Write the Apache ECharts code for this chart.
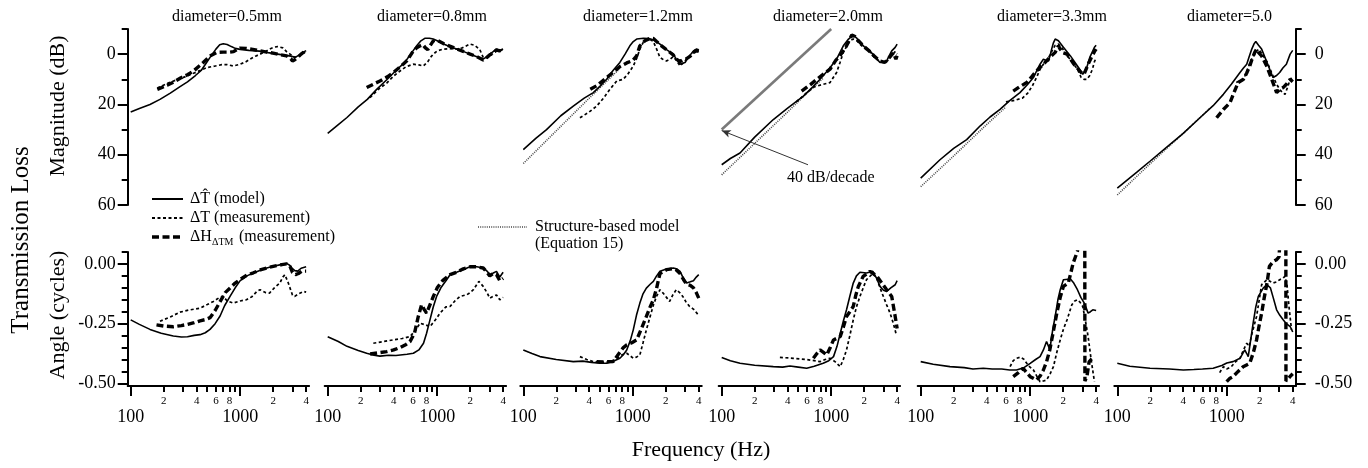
<!DOCTYPE html>
<html><head><meta charset="utf-8">
<script src="https://cdn.jsdelivr.net/npm/echarts@6/dist/echarts.min.js"></script>
<style>html,body{margin:0;padding:0;background:#fff}#c{width:1368px;height:468px}</style>
</head><body><div id="c"></div>
<script>
// ---------------- tick values ----------------
const freqMajor = [100, 1000];
const freqMinor = [200, 300, 400, 500, 600, 700, 800, 900, 2000, 3000, 4000];
const freqMinorLabeled = [200, 400, 600, 800, 2000, 4000];
const magMajor = [0, 20, 40, 60];
const magMinor = [-10, 10, 30, 50];
const angMajor = [0, -0.25, -0.5];
const angMinor = [0.05, -0.05, -0.1, -0.15, -0.2, -0.3, -0.35, -0.4, -0.45];
const titles = ['diameter=0.5mm', 'diameter=0.8mm', 'diameter=1.2mm', 'diameter=2.0mm', 'diameter=3.3mm', 'diameter=5.0'];

// ---------------- magnitude (dB), [Hz, dB] ----------------
const mag_model_05 = [[100,23],[120,21.6],[150,20],[185,18],[230,15.5],[280,13],[330,11],[390,8.5],[440,6.5],[490,3.5],[540,0.8],[600,-2],[650,-3.7],[700,-4.1],[760,-3.8],[830,-3],[900,-2.3],[1000,-1.9],[1200,-1.5],[1500,-1.2],[1800,-0.6],[2200,0],[2600,0.5],[2900,0.8],[3200,1.2],[3450,0.4],[3700,-0.6],[4000,-1.4]];
const mag_meas_05 = [[175,13.5],[220,11.5],[270,10],[324,8.8],[380,7.5],[430,6.5],[500,5.3],[580,4.8],[680,4.2],[760,4.2],[870,4.7],[1000,4],[1130,3],[1230,2],[1380,0.8],[1520,0],[1700,-1],[1850,-2],[2050,-2.8],[2200,-3],[2450,-2.5],[2650,-1],[2850,0],[3100,1.2],[3300,1.2],[3500,0.6],[3750,-0.8],[4000,-0.3]];
const mag_htm_05 = [[175,14],[215,12.4],[250,11],[285,9.5],[330,8.2],[375,6.7],[420,4.8],[460,3.3],[500,1.8],[540,0.5],[610,-0.7],[700,-0.8],[800,-0.8],[870,-1],[930,-1.8],[1000,-2.4],[1140,-2.3],[1300,-1.9],[1520,-1.3],[1750,-0.8],[2000,-0.4],[2300,0.2],[2650,0.7],[2900,1.8],[3000,2.7],[3150,2.2],[3350,1.3],[3600,0],[3850,-1],[4000,-0.7]];

const mag_model_08 = [[100,31.5],[125,28],[150,25.2],[190,21],[230,18],[280,14],[350,10],[420,6.5],[480,4.2],[530,2],[590,-0.8],[650,-3.3],[710,-5.3],[770,-6.3],[850,-6.3],[920,-6],[1000,-5.3],[1140,-4],[1300,-3],[1500,-2],[1750,-1],[2000,0],[2300,1],[2630,2],[2800,1.2],[3000,0],[3200,-0.8],[3480,-2],[3700,-1.5],[4000,-2]];
const mag_meas_08 = [[243,17.3],[290,14],[346,11.5],[400,8.7],[458,6.7],[520,5],[606,4],[680,4.3],[749,4.7],[820,3],[880,1],[921,0],[1000,-1.3],[1137,-2],[1300,-2.2],[1500,-2],[1700,-2.5],[1990,-4],[2200,-3.5],[2450,-1.8],[2630,1.3],[2850,1.5],[3100,0.3],[3300,-0.5],[3500,-1.5],[3700,-1.2],[4000,-1.8]];
const mag_htm_08 = [[227,13.3],[260,12],[300,10.7],[350,9],[398,7.3],[460,5],[526,2.7],[570,0.5],[606,-1.3],[650,-2.5],[697,-3.3],[740,-3.8],[780,-2.5],[820,-1.8],[859,-3.3],[921,-5.3],[1000,-5.5],[1140,-4.2],[1300,-3.2],[1500,-2.1],[1750,-1],[2000,0],[2300,1],[2630,2.3],[2800,1.6],[3000,0.4],[3250,-0.5],[3480,-1.7],[3700,-1.3],[4000,-1.8]];

const mag_model_12 = [[100,38],[130,33.5],[163,30],[220,24.5],[286,20.7],[360,17.5],[436,15.3],[500,12.8],[577,10],[660,6.5],[762,3.3],[850,0],[940,-3.3],[1010,-5],[1085,-6],[1250,-6.3],[1400,-6.2],[1540,-5.7],[1650,-5],[1770,-4],[2000,-2],[2340,0],[2500,2],[2700,4],[2850,3.6],[3000,3.3],[3250,1],[3580,-1.3],[3800,-2],[4000,-1.7]];
const mag_meas_12 = [[329,25.3],[400,23],[467,20.7],[540,17.5],[618,14],[713,10.7],[816,10],[900,8],[1010,4.7],[1090,1.5],[1160,-2],[1250,-4.8],[1330,-6],[1440,-5.8],[1540,-5],[1650,-2],[1770,1.3],[1900,2.2],[2030,2.7],[2200,2],[2340,1],[2500,2.5],[2700,4.7],[2900,3.5],[3100,2],[3350,1],[3580,-0.7],[3800,-1.3],[4000,-1]];
const mag_htm_12 = [[409,14],[470,12.5],[560,9.8],[650,7.5],[760,5],[880,3.5],[1000,2.5],[1085,0.7],[1160,-3.3],[1290,-5.3],[1440,-6.3],[1540,-6.2],[1650,-5],[1770,-3.8],[2000,-2],[2340,0.3],[2500,2],[2700,3],[2900,2],[3100,1.8],[3350,0.8],[3580,-0.6],[3800,-1.5],[4000,-1.2]];
const mag_struct_12 = [[100,43.5],[200,30.5],[400,17.5],[750,6]];

const mag_model_20 = [[100,44],[120,41.5],[147,39.3],[200,33],[296,26],[400,21.5],[557,16.7],[680,13],[791,10],[950,6],[1120,2],[1290,-3.3],[1440,-6],[1590,-7.6],[1700,-6.5],[1830,-4.7],[2000,-3],[2260,-1.3],[2500,1],[2790,3.3],[3000,3.2],[3210,2.7],[3400,0.5],[3570,-1.3],[3840,-2.7],[4000,-4]];
const mag_meas_20 = [[480,19],[600,15.3],[700,13],[845,12],[975,11.3],[1120,7.3],[1200,3.5],[1290,-0.7],[1400,-3.5],[1480,-5.3],[1590,-6],[1700,-5.5],[1830,-4],[2000,-2.5],[2260,-0.8],[2500,1.5],[2790,3],[3090,3.5],[3300,2.5],[3570,0.5],[3840,-1],[4000,0]];
const mag_htm_20 = [[537,14.7],[650,12],[791,9],[975,6],[1100,2.5],[1200,0.7],[1380,-3.3],[1540,-7.6],[1650,-7],[1800,-5],[2000,-3],[2260,-1],[2500,1],[2790,2.7],[3090,3.3],[3300,2],[3450,1],[3700,-0.5],[3900,2],[4000,0.5]];
const mag_struct_20 = [[100,48],[200,35.5],[400,23],[600,15.5],[850,9.5]];
const slope_line_20 = [[100,30],[1000,-10]];
const slope_arrow_from = [614, 44];
const slope_arrow_to = [100, 30.4];

const mag_model_33 = [[100,49.3],[150,42],[200,37.5],[263,34],[350,28.5],[430,25],[530,22],[650,18.5],[806,15.3],[950,12],[1070,9.3],[1150,6.5],[1230,4],[1320,2],[1400,2.5],[1470,2.7],[1520,0.5],[1570,-2],[1630,-4.5],[1690,-6],[1750,-6],[1810,-5.3],[2010,-2.7],[2330,0.7],[2700,4.7],[3020,8],[3250,6],[3500,1.3],[3860,-2.7],[4000,-3.5]];
const mag_meas_33 = [[600,19],[700,18.5],[850,17.5],[950,15.5],[1050,12.5],[1150,9],[1230,6],[1320,4],[1450,2],[1570,-1],[1690,-3.5],[1810,-4],[1950,-2.5],[2170,0.5],[2450,3.5],[2700,6],[2920,9.3],[3100,10],[3290,10],[3500,8.5],[3700,6],[3860,3],[4000,1.5]];
const mag_htm_33 = [[700,14.7],[800,13],[930,11.3],[1030,9],[1140,6.7],[1320,4],[1510,1.3],[1690,-0.7],[1810,-3.3],[1880,-2],[2000,-0.5],[2170,0],[2510,4],[2920,7.3],[3100,8],[3380,4],[3600,1.5],[3860,-1],[4000,-2]];
const mag_struct_33 = [[100,52.7],[200,40.5],[400,28],[600,21]];

const mag_model_50 = [[100,53.3],[150,47],[200,42.5],[283,37],[400,31.5],[569,25.3],[750,20.5],[930,16],[1100,12],[1320,7.3],[1420,5.5],[1520,4],[1600,1],[1690,-2],[1770,-4],[1840,-5],[1950,-3.5],[2080,-2],[2330,3.3],[2640,9.3],[2850,8.5],[3040,7.3],[3250,5.5],[3500,4],[3790,0],[4000,-1.5]];
const mag_meas_50 = [[1220,11.3],[1320,10.5],[1420,10],[1520,7],[1640,3],[1740,1],[1850,-1],[1960,-2],[2100,0],[2330,3],[2600,8],[2850,12],[3100,14.5],[3400,16],[3600,13],[3790,10],[4000,9]];
const mag_htm_50 = [[807,25.3],[930,22],[1070,19.3],[1170,15],[1270,11.3],[1420,10],[1520,7.5],[1620,4.7],[1700,2],[1800,-0.7],[1870,-2],[1960,-0.5],[2080,0.7],[2330,5],[2640,11.3],[2850,15.3],[3050,14],[3270,13.3],[3500,12],[3790,10],[4000,11]];
const mag_struct_50 = [[100,56],[200,43.5],[400,31.5],[700,21.5]];

// ---------------- angle (cycles), [Hz, cycles] ----------------
const ang_model_05 = [[100,-0.234],[120,-0.253],[150,-0.274],[190,-0.29],[245,-0.302],[290,-0.306],[330,-0.305],[380,-0.299],[430,-0.296],[480,-0.288],[530,-0.274],[590,-0.25],[655,-0.218],[720,-0.175],[810,-0.135],[900,-0.1],[1000,-0.07],[1150,-0.05],[1320,-0.038],[1550,-0.025],[1750,-0.017],[2000,-0.01],[2300,-0.004],[2650,0.002],[2800,-0.004],[2950,-0.016],[3150,-0.028],[3350,-0.03],[3600,-0.018],[4000,-0.012]];
const ang_meas_05 = [[185,-0.24],[230,-0.222],[282,-0.202],[340,-0.193],[430,-0.185],[500,-0.17],[569,-0.157],[640,-0.142],[700,-0.136],[760,-0.155],[865,-0.164],[1000,-0.155],[1140,-0.15],[1280,-0.137],[1420,-0.115],[1517,-0.108],[1700,-0.12],[1850,-0.122],[2050,-0.1],[2300,-0.08],[2450,-0.055],[2560,-0.045],[2750,-0.08],[3000,-0.13],[3150,-0.136],[3400,-0.125],[3800,-0.115],[4000,-0.118]];
const ang_htm_05 = [[172,-0.255],[200,-0.26],[245,-0.263],[290,-0.258],[330,-0.253],[380,-0.246],[430,-0.238],[480,-0.233],[530,-0.225],[590,-0.195],[655,-0.158],[730,-0.12],[810,-0.1],[900,-0.08],[1000,-0.065],[1150,-0.047],[1320,-0.037],[1550,-0.024],[1800,-0.015],[2100,-0.008],[2400,-0.003],[2650,0],[2850,-0.01],[3000,-0.035],[3200,-0.045],[3400,-0.04],[3650,-0.03],[4000,-0.03]];

const ang_model_08 = [[100,-0.305],[125,-0.325],[150,-0.345],[190,-0.362],[227,-0.374],[265,-0.382],[300,-0.386],[360,-0.382],[420,-0.383],[460,-0.381],[530,-0.378],[606,-0.374],[680,-0.36],[750,-0.332],[800,-0.29],[859,-0.234],[920,-0.18],[987,-0.136],[1080,-0.1],[1220,-0.066],[1310,-0.045],[1500,-0.035],[1700,-0.025],[1990,-0.012],[2300,-0.012],[2630,-0.017],[2850,-0.03],[3020,-0.045],[3250,-0.038],[3480,-0.031],[3730,-0.055],[4000,-0.035]];
const ang_meas_08 = [[261,-0.332],[320,-0.325],[397,-0.318],[480,-0.312],[564,-0.304],[630,-0.28],[697,-0.248],[780,-0.255],[859,-0.262],[960,-0.235],[1061,-0.206],[1200,-0.18],[1310,-0.178],[1450,-0.155],[1616,-0.136],[1865,-0.129],[2000,-0.12],[2140,-0.108],[2400,-0.073],[2630,-0.094],[2850,-0.12],[3020,-0.143],[3250,-0.135],[3480,-0.13],[3730,-0.15],[4000,-0.14]];
const ang_htm_08 = [[244,-0.377],[290,-0.372],[346,-0.367],[400,-0.36],[458,-0.35],[520,-0.337],[564,-0.325],[620,-0.29],[672,-0.22],[720,-0.171],[760,-0.19],[800,-0.206],[860,-0.17],[922,-0.136],[1000,-0.1],[1120,-0.07],[1310,-0.045],[1500,-0.035],[1700,-0.022],[1990,-0.012],[2300,-0.012],[2630,-0.017],[2850,-0.035],[3020,-0.05],[3250,-0.04],[3480,-0.045],[3730,-0.07],[4000,-0.06]];

const ang_model_12 = [[100,-0.36],[120,-0.375],[142,-0.388],[200,-0.4],[286,-0.409],[350,-0.407],[420,-0.412],[500,-0.416],[577,-0.416],[680,-0.405],[762,-0.395],[820,-0.38],[880,-0.36],[950,-0.32],[1010,-0.276],[1080,-0.215],[1160,-0.164],[1240,-0.125],[1330,-0.101],[1440,-0.085],[1540,-0.073],[1650,-0.05],[1770,-0.031],[2000,-0.022],[2340,-0.017],[2500,-0.02],[2700,-0.031],[2900,-0.06],[3100,-0.08],[3350,-0.075],[3580,-0.07],[3800,-0.055],[4000,-0.045]];
const ang_meas_12 = [[329,-0.388],[380,-0.4],[436,-0.409],[520,-0.412],[620,-0.41],[720,-0.395],[800,-0.38],[880,-0.374],[950,-0.385],[1010,-0.395],[1080,-0.39],[1160,-0.381],[1240,-0.33],[1330,-0.276],[1440,-0.22],[1540,-0.173],[1650,-0.135],[1770,-0.108],[1890,-0.122],[2030,-0.14],[2170,-0.157],[2320,-0.13],[2490,-0.108],[2680,-0.12],[2860,-0.136],[3050,-0.158],[3300,-0.178],[3600,-0.19],[3960,-0.213]];
const ang_htm_12 = [[467,-0.409],[560,-0.41],[660,-0.409],[762,-0.37],[820,-0.35],[880,-0.339],[980,-0.33],[1085,-0.318],[1200,-0.27],[1330,-0.22],[1440,-0.18],[1540,-0.15],[1650,-0.101],[1770,-0.04],[2030,-0.024],[2340,-0.02],[2500,-0.025],[2700,-0.04],[2900,-0.065],[3100,-0.085],[3350,-0.09],[3580,-0.1],[3800,-0.12],[4000,-0.143]];

const ang_model_20 = [[100,-0.392],[120,-0.405],[147,-0.416],[200,-0.424],[296,-0.43],[360,-0.432],[420,-0.427],[500,-0.432],[597,-0.437],[700,-0.428],[845,-0.416],[950,-0.405],[1050,-0.388],[1130,-0.345],[1210,-0.29],[1290,-0.24],[1380,-0.192],[1480,-0.135],[1590,-0.08],[1700,-0.05],[1830,-0.035],[2100,-0.038],[2400,-0.031],[2600,-0.06],[2790,-0.094],[3000,-0.11],[3210,-0.115],[3500,-0.1],[3840,-0.087],[4000,-0.07]];
const ang_meas_20 = [[340,-0.391],[450,-0.395],[597,-0.4],[700,-0.405],[791,-0.409],[880,-0.4],[975,-0.395],[1090,-0.41],[1210,-0.43],[1290,-0.4],[1380,-0.36],[1480,-0.3],[1590,-0.234],[1700,-0.18],[1830,-0.136],[2000,-0.09],[2100,-0.066],[2400,-0.04],[2600,-0.06],[2900,-0.12],[3200,-0.17],[3450,-0.206],[3700,-0.25],[3900,-0.29]];
const ang_htm_20 = [[687,-0.395],[740,-0.375],[791,-0.36],[850,-0.37],[910,-0.381],[980,-0.35],[1050,-0.318],[1210,-0.304],[1300,-0.26],[1380,-0.22],[1480,-0.2],[1590,-0.178],[1680,-0.13],[1770,-0.094],[1960,-0.052],[2260,-0.031],[2600,-0.05],[2900,-0.08],[3210,-0.108],[3570,-0.136],[3840,-0.22],[4000,-0.27]];

const ang_model_33 = [[100,-0.409],[130,-0.42],[185,-0.43],[250,-0.434],[300,-0.44],[373,-0.437],[450,-0.44],[550,-0.44],[650,-0.444],[750,-0.444],[870,-0.435],[1000,-0.416],[1120,-0.4],[1230,-0.388],[1320,-0.36],[1410,-0.325],[1470,-0.345],[1510,-0.36],[1600,-0.28],[1690,-0.22],[1790,-0.15],[1880,-0.108],[2010,-0.066],[2330,-0.063],[2500,-0.08],[2700,-0.108],[2900,-0.14],[3120,-0.164],[3380,-0.206],[3550,-0.2],[3730,-0.192],[4000,-0.195]];
const ang_meas_33 = [[655,-0.43],[700,-0.405],[750,-0.395],[820,-0.39],[880,-0.4],[960,-0.425],[1070,-0.444],[1150,-0.47],[1230,-0.493],[1320,-0.49],[1410,-0.486],[1520,-0.46],[1630,-0.43],[1750,-0.37],[1880,-0.318],[2020,-0.27],[2170,-0.234],[2400,-0.171],[2550,-0.155],[2700,-0.15],[2850,-0.16],[3020,-0.178],[3200,-0.24],[3380,-0.304],[3600,-0.4],[3860,-0.493]];
const ang_htm_33 = [[700,-0.472],[780,-0.455],[862,-0.437],[930,-0.455],[1000,-0.472],[1140,-0.486],[1230,-0.47],[1320,-0.444],[1410,-0.41],[1510,-0.36],[1630,-0.28],[1750,-0.206],[1880,-0.14],[2010,-0.094],[2230,-0.08],[2470,0.004],[2700,0.053],[2950,0.2],[3150,0.2],[3160,-0.49],[3300,-0.47],[3450,-0.41],[3600,-0.4],[3860,-0.39]];

const ang_model_50 = [[100,-0.416],[130,-0.428],[199,-0.437],[300,-0.44],[401,-0.444],[500,-0.442],[600,-0.44],[751,-0.437],[900,-0.425],[1000,-0.415],[1140,-0.409],[1320,-0.395],[1460,-0.36],[1520,-0.375],[1570,-0.388],[1650,-0.32],[1740,-0.248],[1840,-0.18],[1940,-0.136],[2150,-0.101],[2330,-0.087],[2500,-0.1],[2650,-0.14],[2850,-0.192],[3050,-0.215],[3270,-0.234],[3500,-0.25],[3790,-0.262],[4000,-0.285]];
const ang_meas_50 = [[861,-0.455],[930,-0.43],[997,-0.44],[1100,-0.43],[1200,-0.41],[1320,-0.395],[1420,-0.36],[1520,-0.332],[1600,-0.345],[1700,-0.29],[1870,-0.22],[2080,-0.087],[2330,-0.066],[2640,-0.08],[2850,-0.075],[3040,-0.066],[3250,-0.06],[3400,-0.052],[3550,-0.09],[3700,-0.18],[3900,-0.276]];
const ang_htm_50 = [[997,-0.493],[1060,-0.48],[1140,-0.472],[1270,-0.45],[1410,-0.43],[1620,-0.416],[1750,-0.37],[1870,-0.318],[1970,-0.26],[2080,-0.206],[2200,-0.14],[2330,-0.08],[2450,-0.01],[2650,0.01],[2850,0.018],[3000,0.03],[3150,0.2],[3460,0.2],[3470,-0.49],[3650,-0.48],[3800,-0.47],[4000,-0.46]];

// ---------------- build ----------------
const panelMag = [
  {model: mag_model_05, meas: mag_meas_05, htm: mag_htm_05},
  {model: mag_model_08, meas: mag_meas_08, htm: mag_htm_08},
  {model: mag_model_12, meas: mag_meas_12, htm: mag_htm_12, struct: mag_struct_12},
  {model: mag_model_20, meas: mag_meas_20, htm: mag_htm_20, struct: mag_struct_20, slope: slope_line_20},
  {model: mag_model_33, meas: mag_meas_33, htm: mag_htm_33, struct: mag_struct_33},
  {model: mag_model_50, meas: mag_meas_50, htm: mag_htm_50, struct: mag_struct_50}
];
const panelAng = [
  {model: ang_model_05, meas: ang_meas_05, htm: ang_htm_05},
  {model: ang_model_08, meas: ang_meas_08, htm: ang_htm_08},
  {model: ang_model_12, meas: ang_meas_12, htm: ang_htm_12},
  {model: ang_model_20, meas: ang_meas_20, htm: ang_htm_20},
  {model: ang_model_33, meas: ang_meas_33, htm: ang_htm_33},
  {model: ang_model_50, meas: ang_meas_50, htm: ang_htm_50}
];

const FONT = 'Liberation Serif';
const PXDEC = 109.5;
const L10 = v => Math.log10(v);
const xMin = 2 - 3 / PXDEC;
const xMax = L10(4000) + 3 / PXDEC;
const GW = (xMax - xMin) * PXDEC;
const lefts = [127.7, 324.7, 520.3, 718.7, 917.7, 1114.3];
const TOP_Y = 29, TOP_H = 176, BOT_Y = 252, BOT_H = 134;
const ANG_MIN = -0.511, ANG_MAX = 0.05;

const STY = {
  model: {color: '#000', width: 1.6, type: 'solid'},
  meas: {color: '#000', width: 1.7, type: [3, 2.5]},
  htm: {color: '#000', width: 3.4, type: [7, 3.5]},
  struct: {color: '#444', width: 1.6, type: [1, 1.2]},
  slope: {color: '#7a7a7a', width: 2.6, type: 'solid'}
};

const grid = [], xAxis = [], yAxis = [], series = [];
const black = {color: '#000', width: 2};

function yDef(gi, kind, side, role) {
  const isMag = kind === 'mag';
  const base = {
    gridIndex: gi, type: 'value',
    min: isMag ? -10 : ANG_MIN, max: isMag ? 60 : ANG_MAX,
    inverse: isMag, splitLine: {show: false}
  };
  if (!side) return Object.assign(base, {show: false});
  const major = role === 'major';
  return Object.assign(base, {
    show: true, position: side,
    axisLine: {show: major, onZero: false, lineStyle: black},
    axisTick: {show: true, inside: false, length: major ? 10 : 6, lineStyle: black,
      customValues: major ? (isMag ? magMajor : angMajor) : (isMag ? magMinor : angMinor)},
    axisLabel: {show: major, customValues: isMag ? magMajor : angMajor,
      formatter: v => isMag ? String(v) : v.toFixed(2),
      fontFamily: FONT, fontSize: 18, color: '#000', margin: side === 'left' ? 12 : 19}
  });
}

function addSeries(name, data, xi, yi, st, extra) {
  series.push(Object.assign({
    name: name, type: 'line', xAxisIndex: xi, yAxisIndex: yi,
    data: data.map(p => [L10(p[0]), p[1]]),
    showSymbol: false, symbol: 'none', smooth: false, clip: true, silent: true,
    lineStyle: {color: st.color, width: st.width, type: st.type},
    animation: false
  }, extra || {}));
}

for (let row = 0; row < 2; row++) {
  for (let i = 0; i < 6; i++) {
    const gi = row * 6 + i;
    grid.push({left: lefts[i], top: row === 0 ? TOP_Y : BOT_Y, width: GW, height: row === 0 ? TOP_H : BOT_H});
    let xi;
    if (row === 0) {
      xi = xAxis.length;
      xAxis.push({gridIndex: gi, type: 'value', min: xMin, max: xMax, show: false});
    } else {
      xi = xAxis.length;
      xAxis.push({
        gridIndex: gi, type: 'value', min: xMin, max: xMax, position: 'bottom',
        splitLine: {show: false},
        axisLine: {show: true, onZero: false, lineStyle: black},
        axisTick: {show: true, inside: false, length: 10, lineStyle: black, customValues: freqMajor.map(L10)},
        axisLabel: {customValues: freqMajor.map(L10), formatter: v => String(Math.round(Math.pow(10, v))),
          fontFamily: FONT, fontSize: 18, color: '#000', margin: 22}
      });
      xAxis.push({
        gridIndex: gi, type: 'value', min: xMin, max: xMax, position: 'bottom',
        splitLine: {show: false},
        axisLine: {show: false, onZero: false},
        axisTick: {show: true, inside: false, length: 6, lineStyle: black, customValues: freqMinor.map(L10)},
        axisLabel: {customValues: freqMinorLabeled.map(L10), formatter: v => String(Math.round(Math.pow(10, v)))[0],
          fontFamily: FONT, fontSize: 11, color: '#000', margin: 10}
      });
    }
    const kind = row === 0 ? 'mag' : 'ang';
    const side = i === 0 ? 'left' : (i === 5 ? 'right' : null);
    const yi = yAxis.length;
    yAxis.push(yDef(gi, kind, side, 'major'));
    if (side) yAxis.push(yDef(gi, kind, side, 'minor'));

    const P = row === 0 ? panelMag[i] : panelAng[i];
    const tag = titles[i] + (row === 0 ? ' magnitude' : ' angle');
    if (P.slope) {
      addSeries(tag + ' 40 dB/decade', P.slope, xi, yi, STY.slope, {
        markLine: {
          silent: true, animation: false, symbol: ['none', 'arrow'], symbolSize: [6, 9],
          lineStyle: {color: '#333', width: 1, type: 'solid'}, label: {show: false},
          data: [[{coord: [L10(slope_arrow_from[0]), slope_arrow_from[1]]}, {coord: [L10(slope_arrow_to[0]), slope_arrow_to[1]]}]]
        }
      });
    }
    if (P.struct) addSeries(tag + ' structure model', P.struct, xi, yi, STY.struct);
    addSeries(tag + ' ΔT measurement', P.meas, xi, yi, STY.meas);
    addSeries(tag + ' ΔH measurement', P.htm, xi, yi, STY.htm);
    addSeries(tag + ' model', P.model, xi, yi, STY.model);
  }
}

function txt(x, y, text, size, opts) {
  return Object.assign({
    type: 'text', x: x, y: y, silent: true,
    style: Object.assign({text: text, fontFamily: FONT, fontSize: size, fill: '#000',
      align: 'left', verticalAlign: 'middle', textAlign: 'left', textVerticalAlign: 'middle'}, (opts && opts.style) || {})
  }, (opts && opts.el) || {});
}
const centered = {style: {align: 'center', textAlign: 'center'}};
const titleLefts = [172, 377, 583, 773, 997, 1187];

const graphic = [];
titles.forEach((t, i) => graphic.push(txt(titleLefts[i], 17, t, 16)));
graphic.push(txt(58, 106, 'Magnitude (dB)', 22, {style: {align: 'center', textAlign: 'center'}, el: {rotation: Math.PI / 2}}));
graphic.push(txt(58, 315, 'Angle (cycles)', 22, {style: {align: 'center', textAlign: 'center'}, el: {rotation: Math.PI / 2}}));
graphic.push(txt(21, 240, 'Transmission Loss', 25, {style: {align: 'center', textAlign: 'center'}, el: {rotation: Math.PI / 2}}));
graphic.push(txt(701, 450, 'Frequency (Hz)', 22, centered));
graphic.push(txt(787, 178, '40 dB/decade', 16));
// legend
graphic.push({type: 'line', silent: true, shape: {x1: 152, y1: 199, x2: 183, y2: 199}, style: {stroke: '#000', lineWidth: 2}});
graphic.push(txt(190, 199, 'ΔT\u0302 (model)', 16));
graphic.push({type: 'line', silent: true, shape: {x1: 152, y1: 218, x2: 183, y2: 218}, style: {stroke: '#000', lineWidth: 1.8, lineDash: [3, 2.5]}});
graphic.push(txt(190, 218, 'ΔT (measurement)', 16));
graphic.push({type: 'line', silent: true, shape: {x1: 152, y1: 237, x2: 183, y2: 237}, style: {stroke: '#000', lineWidth: 3.4, lineDash: [7, 3.5]}});
graphic.push(txt(190, 237, 'ΔH', 16));
graphic.push(txt(212, 242, 'ΔTM', 10));
graphic.push(txt(239, 237, '(measurement)', 16));
graphic.push({type: 'line', silent: true, shape: {x1: 478, y1: 227, x2: 527, y2: 227}, style: {stroke: '#444', lineWidth: 1.6, lineDash: [1, 1.2]}});
graphic.push(txt(535, 227, 'Structure-based model', 16));
graphic.push(txt(535, 244, '(Equation 15)', 16));

const chart = echarts.init(document.getElementById('c'), null, {renderer: 'canvas'});
chart.setOption({
  backgroundColor: '#fff', animation: false,
  grid: grid, xAxis: xAxis, yAxis: yAxis, series: series, graphic: graphic
});
</script></body></html>
